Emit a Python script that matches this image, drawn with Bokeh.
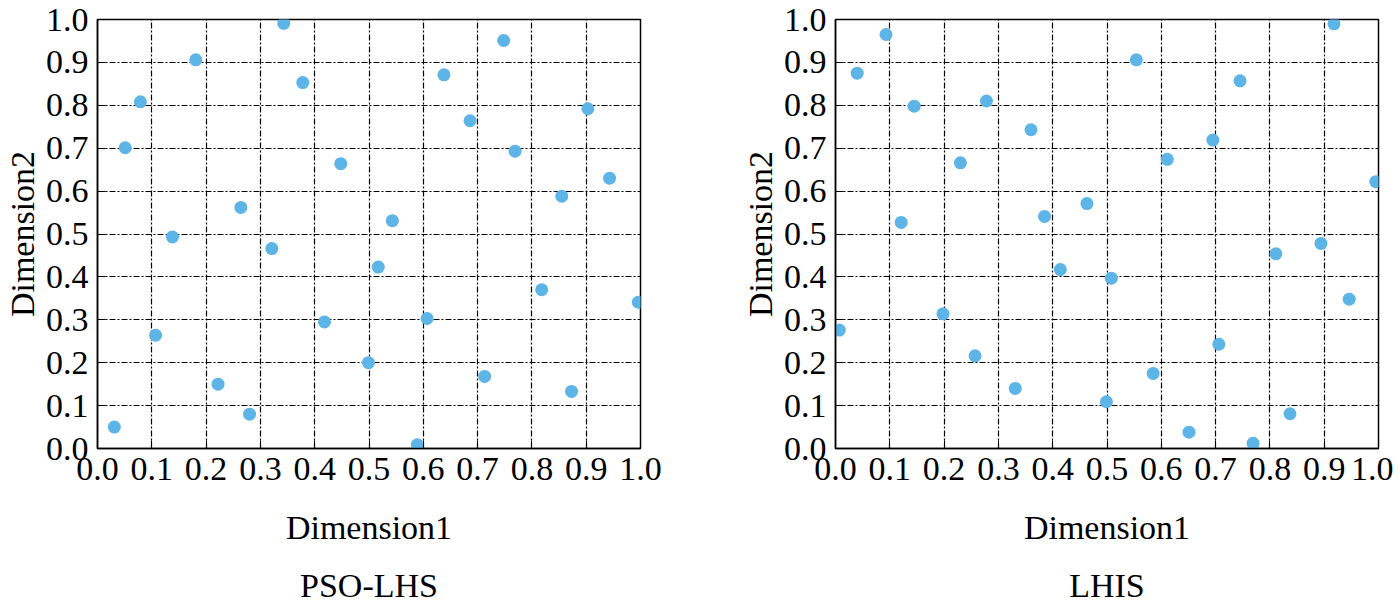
from bokeh.plotting import figure
from bokeh.layouts import row
from bokeh.models import Title, Range1d, FixedTicker
from bokeh.embed import file_html
from bokeh.resources import INLINE

# PSO-LHS samples
pso_x = [0.031, 0.051, 0.079, 0.107, 0.138, 0.181, 0.222, 0.264, 0.280, 0.321,
         0.343, 0.378, 0.418, 0.448, 0.499, 0.517, 0.543, 0.589, 0.607, 0.638,
         0.686, 0.713, 0.748, 0.769, 0.818, 0.855, 0.873, 0.903, 0.943, 0.996]
pso_y = [0.050, 0.701, 0.808, 0.264, 0.493, 0.906, 0.150, 0.562, 0.080, 0.466,
         0.991, 0.853, 0.295, 0.664, 0.200, 0.423, 0.531, 0.009, 0.303, 0.871,
         0.764, 0.168, 0.951, 0.693, 0.370, 0.588, 0.133, 0.792, 0.630, 0.341]

# LHIS samples
lhis_x = [0.007, 0.040, 0.093, 0.121, 0.145, 0.198, 0.230, 0.257, 0.278, 0.331,
          0.360, 0.385, 0.414, 0.463, 0.499, 0.508, 0.554, 0.585, 0.611, 0.651,
          0.695, 0.706, 0.745, 0.769, 0.811, 0.837, 0.894, 0.918, 0.946, 0.995]
lhis_y = [0.276, 0.875, 0.965, 0.527, 0.798, 0.314, 0.666, 0.216, 0.810, 0.140,
          0.743, 0.541, 0.417, 0.571, 0.109, 0.397, 0.906, 0.175, 0.674, 0.038,
          0.719, 0.243, 0.857, 0.012, 0.454, 0.081, 0.478, 0.990, 0.348, 0.622]

ticks = [0.0, 0.1, 0.2, 0.3, 0.4, 0.5, 0.6, 0.7, 0.8, 0.9, 1.0]
tick_labels = ["0.0", "0.1", "0.2", "0.3", "0.4", "0.5", "0.6", "0.7", "0.8", "0.9", "1.0"]

FONT = "Liberation Serif"
BLUE = "#5DB4E6"


def make(xs, ys, title, left, right):
    p = figure(frame_width=543, frame_height=429,
               x_range=Range1d(0, 1), y_range=Range1d(0, 1),
               output_backend="svg", toolbar_location=None,
               min_border_left=left, min_border_right=right,
               min_border_top=19, min_border_bottom=0,
               title_location=None)
    p.background_fill_color = "white"
    p.border_fill_color = "white"
    p.outline_line_color = "black"
    p.outline_line_width = 1.5
    p.scatter(xs, ys, size=13, fill_color=BLUE, line_color=None)
    overrides = {t: l for t, l in zip(ticks, tick_labels)}
    for ax in (p.xaxis[0], p.yaxis[0]):
        ax.ticker = FixedTicker(ticks=ticks)
        ax.major_label_overrides = overrides
        ax.major_label_text_font = FONT
        ax.major_label_text_font_size = "34px"
        ax.major_label_text_color = "black"
        ax.axis_label_text_font = FONT
        ax.axis_label_text_font_size = "34px"
        ax.axis_label_text_font_style = "normal"
        ax.axis_label_text_color = "black"
        ax.axis_line_color = "black"
        ax.axis_line_width = 1.5
        ax.major_tick_in = 8
        ax.major_tick_out = 0
        ax.major_tick_line_color = "black"
        ax.minor_tick_line_color = None
        ax.major_label_standoff = 9
    p.xaxis[0].axis_label = "Dimension1"
    p.yaxis[0].axis_label = "Dimension2"
    p.xaxis[0].axis_label_standoff = 26
    p.yaxis[0].axis_label_standoff = 2
    for g in (p.xgrid[0], p.ygrid[0]):
        g.ticker = FixedTicker(ticks=ticks)
        g.grid_line_color = "black"
        g.grid_line_width = 1.2
        g.grid_line_dash = "6 2 2 2"
    t = Title(text=title, align="center", text_font=FONT, text_font_size="34px",
              text_font_style="normal", text_color="black", standoff=32)
    p.add_layout(t, "below")
    return p


p1 = make(pso_x, pso_y, "PSO-LHS", 96, 40)
p2 = make(lhis_x, lhis_y, "LHIS", 155, 15)
layout = row(p1, p2)

open("out.html", "w").write(file_html(layout, INLINE))
